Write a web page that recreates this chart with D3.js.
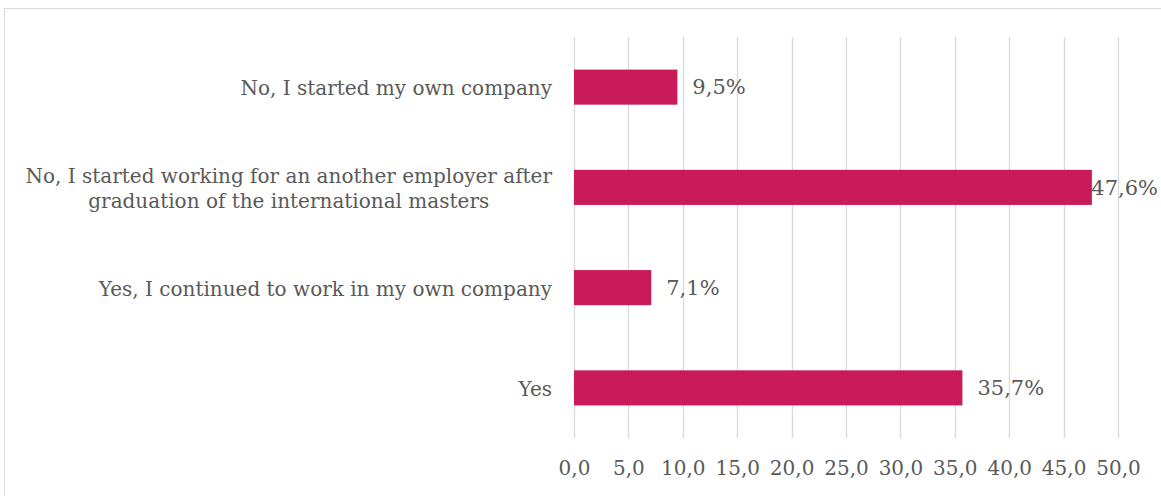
<!DOCTYPE html>
<html>
<head>
<meta charset="utf-8">
<script src="https://cdn.jsdelivr.net/npm/d3@7"></script>
<style>
  html, body { margin: 0; padding: 0; background: #fff; }
  svg text { font-family: "DejaVu Serif", "Liberation Serif", serif; fill: #595959; }
</style>
</head>
<body>
<svg id="chart" width="1161" height="496"></svg>
<script>
// Survey answers, top to bottom, each split into display lines
const categories = [
  ["No, I started my own company"],
  ["No, I started working for an another employer after", "graduation of the international masters"],
  ["Yes, I continued to work in my own company"],
  ["Yes"]
];
const values = [9.5, 47.6, 7.1, 35.7];
const tickValues = [0, 5, 10, 15, 20, 25, 30, 35, 40, 45, 50];

const W = 1161, H = 496;
const margin = { top: 37, right: 43, bottom: 58, left: 574 };
const svg = d3.select("#chart");

// outer chart frame
svg.append("rect")
  .attr("x", 4.5).attr("y", 8.5)
  .attr("width", W + 10).attr("height", H + 10)
  .attr("fill", "none").attr("stroke", "#d9d9d9").attr("stroke-width", 1);

const x = d3.scaleLinear().domain([0, 50]).range([margin.left, W - margin.right]);
const y = d3.scaleBand().domain(d3.range(values.length))
  .range([margin.top, H - margin.bottom]).paddingInner(0.65).paddingOuter(0.325);

const fmt = v => d3.format(".1f")(v).replace(".", ",");

// vertical gridlines
svg.append("g").selectAll("line").data(tickValues).join("line")
  .attr("x1", d => Math.round(x(d)) + 0.5).attr("x2", d => Math.round(x(d)) + 0.5)
  .attr("y1", margin.top).attr("y2", H - margin.bottom)
  .attr("stroke", "#d9d9d9").attr("stroke-width", 1.3);

// bottom axis labels
const xAxis = d3.axisBottom(x).tickValues(tickValues).tickFormat(fmt).tickSize(0).tickPadding(0);
const gx = svg.append("g").attr("transform", `translate(0,${H - margin.bottom + 23})`).call(xAxis);
gx.select(".domain").remove();
gx.selectAll("text").attr("font-size", 20).attr("fill", "#595959")
  .attr("font-family", "DejaVu Serif, Liberation Serif, serif");

// value labels, kept inside the frame on the right
svg.append("g").selectAll("text").data(values).join("text")
  .attr("y", (d, i) => y(i) + y.bandwidth() / 2)
  .attr("dy", "0.35em").attr("font-size", 21)
  .text(d => fmt(d) + "%")
  .attr("x", function (d) {
    const w = this.getComputedTextLength();
    return Math.min(x(d) + 15, W - 3 - w);
  });

// bars
svg.append("g").selectAll("rect").data(values).join("rect")
  .attr("x", x(0)).attr("y", (d, i) => y(i))
  .attr("width", d => x(d) - x(0)).attr("height", y.bandwidth())
  .attr("fill", "#C91B59");

// category labels: each block right-aligned, its lines centred within the block
const labelRight = margin.left - 22;
const lineH = 25;
categories.forEach((lines, i) => {
  const g = svg.append("g");
  const texts = lines.map(l => g.append("text").attr("font-size", 20).text(l));
  const maxW = d3.max(texts, t => t.node().getComputedTextLength());
  const cy = y(i) + y.bandwidth() / 2 + 1;
  texts.forEach((t, k) => {
    t.attr("text-anchor", "middle")
      .attr("x", labelRight - maxW / 2)
      .attr("y", cy + (k - (lines.length - 1) / 2) * lineH)
      .attr("dy", "0.35em");
  });
});
</script>
</body>
</html>
